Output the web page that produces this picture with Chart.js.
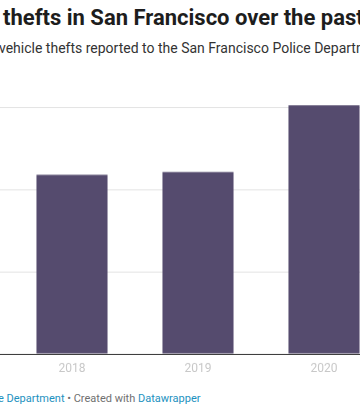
<!DOCTYPE html>
<html lang="en">
<head>
    <meta charset="UTF-8">
    <meta name="viewport" content="width=device-width, initial-scale=1.0">
    <title>Vehicle thefts in San Francisco</title>
    <script src="https://cdn.jsdelivr.net/npm/chart.js"></script>
    <style>
        html, body {
            margin: 0;
            padding: 0;
            width: 360px;
            height: 417px;
            overflow: hidden;
            background: #fff;
            font-family: Roboto, sans-serif;
        }
        .line {
            position: absolute;
            white-space: nowrap;
            line-height: 1;
        }
        .pre {
            position: absolute;
            right: 100%;
        }
        .title {
            top: 7px;
            left: 3px;
            font-size: 22px;
            font-weight: 700;
            color: #1d1d1d;
        }
        .subtitle {
            top: 41px;
            left: -1px;
            font-size: 14px;
            color: #333;
        }
        .footer {
            top: 393px;
            left: -2px;
            font-size: 11px;
            color: #707070;
        }
        .footer a {
            color: #1d91c0;
            text-decoration: none;
        }
        .chart-container {
            position: absolute;
            top: 101px;
            left: 0;
            width: 387px;
            height: 282.5px;
        }
    </style>
</head>
<body>
    <div class="line title"><span class="pre">Vehicle&nbsp;</span>thefts in San Francisco over the past years</div>
    <div class="line subtitle"><span class="pre">Number of&nbsp;</span>vehicle thefts reported to the San Francisco Police Department each year</div>
    <div class="line footer"><a href="#"><span class="pre">Source: San Francisco Polic</span>e Department</a> • Created with <a href="#">Datawrapper</a></div>

    <div class="chart-container">
        <canvas id="theftChart"></canvas>
    </div>

    <script>
        // data
        const years = ['2018', '2019', '2020'];
        const thefts = [4370, 4440, 6070];
        const yTicks = [0, 2000, 4000, 6000];

        const ctx = document.getElementById('theftChart').getContext('2d');
        new Chart(ctx, {
            type: 'bar',
            data: {
                labels: years,
                datasets: [{
                    label: 'Vehicle thefts',
                    data: thefts,
                    backgroundColor: '#554b6e',
                    categoryPercentage: 1,
                    barPercentage: 0.564
                }]
            },
            options: {
                responsive: true,
                maintainAspectRatio: false,
                animation: false,
                layout: {
                    padding: { top: 2.9, bottom: 0, left: 0, right: 0 }
                },
                plugins: {
                    legend: { display: false },
                    tooltip: { enabled: false }
                },
                scales: {
                    x: {
                        z: 1,
                        grid: { display: false, drawTicks: false },
                        border: { display: true, color: '#333', width: 1 },
                        ticks: {
                            color: '#c8c8c8',
                            padding: 8,
                            font: { family: 'Roboto', size: 12 }
                        }
                    },
                    y: {
                        min: 0,
                        max: 6100,
                        afterBuildTicks: function(axis) {
                            axis.ticks = yTicks.map(v => ({ value: v }));
                        },
                        border: { display: false },
                        grid: {
                            drawTicks: true,
                            tickLength: 9,
                            color: function(c) {
                                return c.tick && c.tick.value === 0 ? '#333' : '#e3e3e3';
                            }
                        },
                        ticks: { display: false }
                    }
                }
            }
        });
    </script>
</body>
</html>
